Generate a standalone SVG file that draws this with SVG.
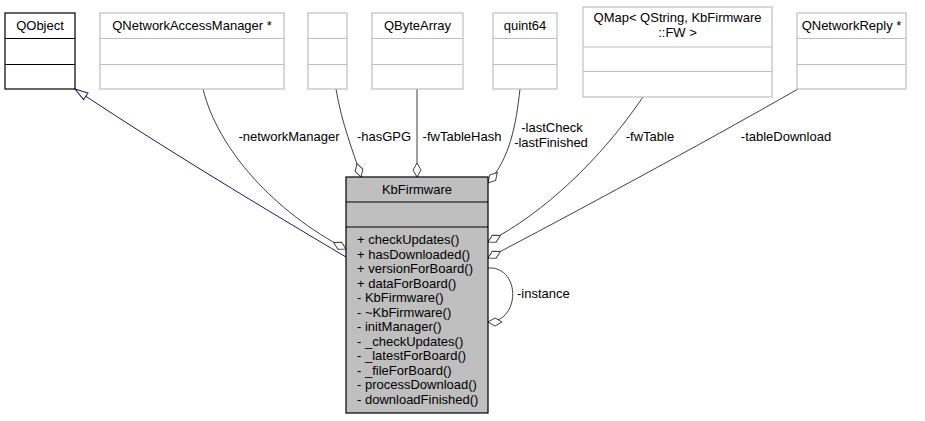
<svg xmlns="http://www.w3.org/2000/svg" width="925" height="421" viewBox="0 0 925 421">
<style>
text{font-family:"Liberation Sans",Arial,sans-serif;font-size:13px;fill:#000}
.c{text-anchor:middle}
.g rect,.g line{stroke:#bfbfbf;stroke-width:1.2;fill:#fff}
.k rect,.k line{stroke:#000;stroke-width:1.2;fill:#fff}
.m rect,.m line{stroke:#000;stroke-width:1.2;fill:#bfbfbf}
.e{fill:none;stroke:#404040;stroke-width:1}
.inh{fill:none;stroke:#191970;stroke-width:1}
</style>
<defs>
<marker id="dia" markerUnits="userSpaceOnUse" markerWidth="16" markerHeight="12" refX="15" refY="5" orient="auto" viewBox="0 0 16 10">
<path d="M1,5 L8,1 L15,5 L8,9 Z" fill="#fff" stroke="#404040" stroke-width="1"/>
</marker>
<marker id="tri" markerUnits="userSpaceOnUse" markerWidth="16" markerHeight="12" refX="14" refY="5" orient="auto" viewBox="0 0 16 10">
<path d="M1,1 L14,5 L1,9 Z" fill="#fff" stroke="#191970" stroke-width="1"/>
</marker>
</defs>
<g id="connectors">
<path class="inh" d="M346,257 C 270,212 160,146 75,89" marker-end="url(#tri)"/>
<path class="e" d="M203,89 C 218,150 275,212 346,249" marker-end="url(#dia)"/>
<path class="e" d="M336,89 C 342,125 353,150 361,177" marker-end="url(#dia)"/>
<path class="e" d="M417,89 L417,177" marker-end="url(#dia)"/>
<path class="e" d="M520,89 C 516,125 510,158 488,183" marker-end="url(#dia)"/>
<path class="e" d="M643,97 C 600,160 545,212 488,242" marker-end="url(#dia)"/>
<path class="e" d="M798,89 C 700,145 570,215 488,258" marker-end="url(#dia)"/>
<path class="e" d="M488,268 C 521,266 521,322 488,322" marker-end="url(#dia)"/>
<text class="c" x="289" y="141">-networkManager</text>
<text class="c" x="384" y="141">-hasGPG</text>
<text class="c" x="462" y="141">-fwTableHash</text>
<text class="c" x="552" y="132">-lastCheck</text>
<text class="c" x="551" y="147">-lastFinished</text>
<text class="c" x="650" y="141">-fwTable</text>
<text class="c" x="786" y="141">-tableDownload</text>
<text x="517" y="298">-instance</text>
</g>
<g id="QObject" class="k">
<rect x="5" y="13" width="70" height="76"/>
<line x1="5" y1="38.5" x2="75" y2="38.5"/>
<line x1="5" y1="64.5" x2="75" y2="64.5"/>
<text class="c" x="40" y="30">QObject</text>
</g>
<g id="QNetworkAccessManager" class="g">
<rect x="100" y="13" width="184" height="76"/>
<line x1="100" y1="38.5" x2="284" y2="38.5"/>
<line x1="100" y1="64.5" x2="284" y2="64.5"/>
<text class="c" x="192" y="30">QNetworkAccessManager *</text>
</g>
<g id="Empty" class="g">
<rect x="308" y="13" width="39" height="76"/>
<line x1="308" y1="38.5" x2="347" y2="38.5"/>
<line x1="308" y1="64.5" x2="347" y2="64.5"/>
</g>
<g id="QByteArray" class="g">
<rect x="372" y="13" width="91" height="76"/>
<line x1="372" y1="38.5" x2="463" y2="38.5"/>
<line x1="372" y1="64.5" x2="463" y2="64.5"/>
<text class="c" x="417.5" y="30">QByteArray</text>
</g>
<g id="quint64" class="g">
<rect x="493" y="13" width="64" height="76"/>
<line x1="493" y1="38.5" x2="557" y2="38.5"/>
<line x1="493" y1="64.5" x2="557" y2="64.5"/>
<text class="c" x="525" y="30">quint64</text>
</g>
<g id="QMap" class="g">
<rect x="583" y="7" width="189" height="90"/>
<line x1="583" y1="47" x2="772" y2="47"/>
<line x1="583" y1="71.5" x2="772" y2="71.5"/>
<text class="c" x="677.5" y="22">QMap&lt; QString, KbFirmware</text>
<text class="c" x="677.5" y="36.5">::FW &gt;</text>
</g>
<g id="QNetworkReply" class="g">
<rect x="797" y="13" width="109" height="76"/>
<line x1="797" y1="38.5" x2="906" y2="38.5"/>
<line x1="797" y1="64.5" x2="906" y2="64.5"/>
<text class="c" x="851.5" y="30">QNetworkReply *</text>
</g>
<g id="KbFirmware" class="m">
<rect x="346" y="177" width="142" height="236"/>
<line x1="346" y1="202" x2="488" y2="202"/>
<line x1="346" y1="227" x2="488" y2="227"/>
<text class="c" x="417" y="194">KbFirmware</text>
<text x="357" y="244">+ checkUpdates()</text>
<text x="357" y="258.5">+ hasDownloaded()</text>
<text x="357" y="273">+ versionForBoard()</text>
<text x="357" y="287.5">+ dataForBoard()</text>
<text x="357" y="302">- KbFirmware()</text>
<text x="357" y="316.5">- ~KbFirmware()</text>
<text x="357" y="331">- initManager()</text>
<text x="357" y="345.5">- _checkUpdates()</text>
<text x="357" y="360">- _latestForBoard()</text>
<text x="357" y="374.5">- _fileForBoard()</text>
<text x="357" y="389">- processDownload()</text>
<text x="357" y="403.5">- downloadFinished()</text>
</g>
</svg>
